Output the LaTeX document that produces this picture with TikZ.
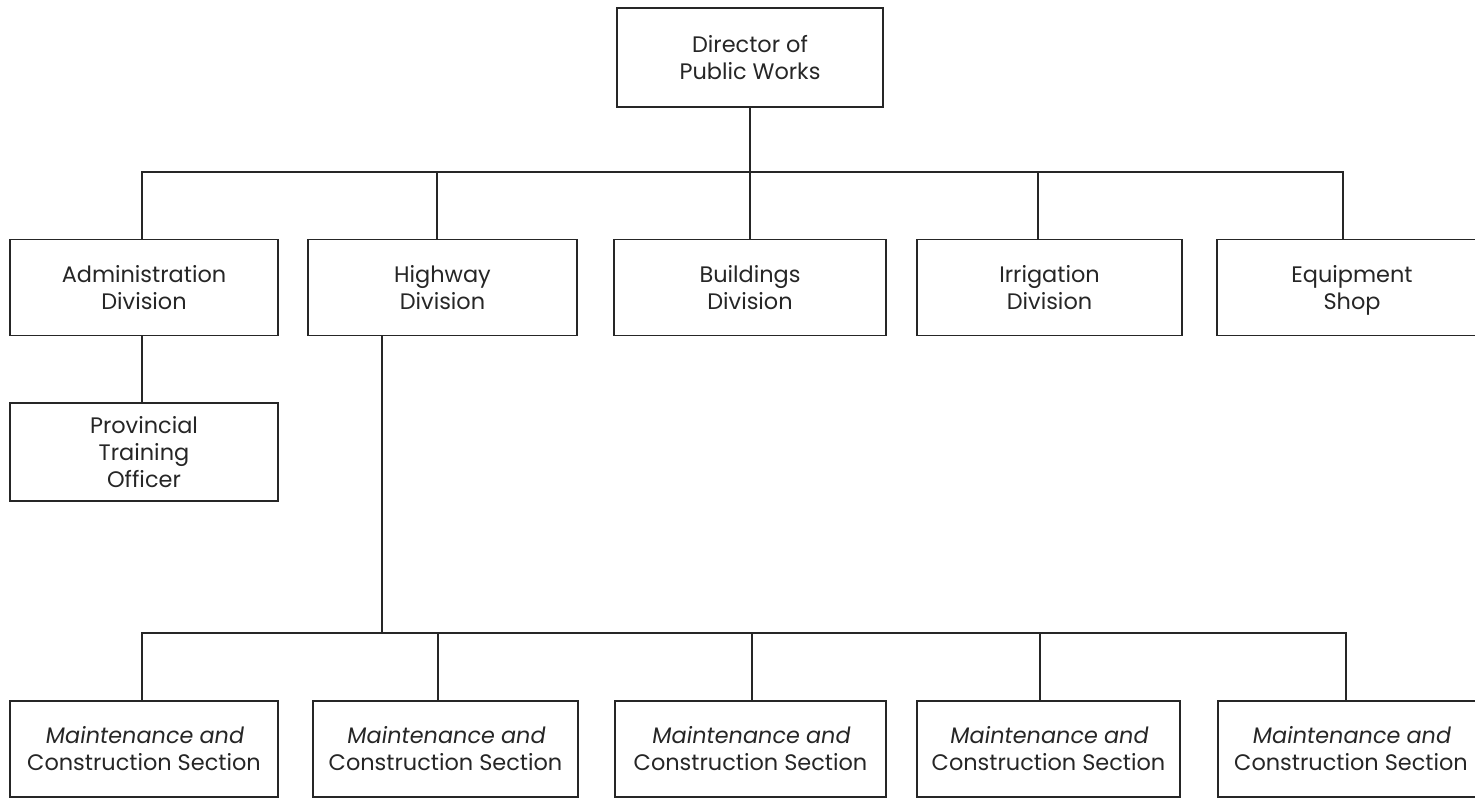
\documentclass[tikz,border=0pt]{standalone}
\usepackage{fontspec}
\setmainfont{Poppins}
\newfontfamily\slantfont[FakeSlant=0.15]{Poppins}
\begin{document}
\begin{tikzpicture}[x=1bp,y=-1bp,
  ink/.style={draw=black!85, line width=1.6bp},
  unit/.style={ink, rectangle, align=center, text=black!85,
    font=\fontsize{22.5}{27}\selectfont, inner sep=0pt},
  link/.style={ink, line cap=rect}]
\clip (0,0) rectangle (1475,798);
\fill[white] (0,0) rectangle (1475,798);

% head of the department
\node[unit, minimum width=266bp, minimum height=99bp] (director) at (750,57.5)
  {Director of\\Public Works};

% divisions
\begin{scope}[every node/.style={unit, minimum height=96bp}]
\node[minimum width=268bp] (admin) at (144,287.5) {Administration\\Division};
\node[minimum width=269bp] (highway) at (442.5,287.5) {Highway\\Division};
\node[minimum width=272bp] (buildings) at (750,287.5) {Buildings\\Division};
\node[minimum width=265bp] (irrigation) at (1049.5,287.5) {Irrigation\\Division};
\node[minimum width=270bp] (equipment) at (1352,287.5) {Equipment\\\smash{Shop}};
\end{scope}

\node[unit, minimum width=268bp, minimum height=98bp] (training) at (144,452)
  {Provincial\\Training\\Officer};

% maintenance and construction sections
\begin{scope}[every node/.style={unit, minimum height=96bp}]
\node[minimum width=268bp] (sec1) at (144,749) {{\slantfont Maintenance and}\\Construction Section};
\node[minimum width=265bp] (sec2) at (445.5,749) {{\slantfont Maintenance and}\\Construction Section};
\node[minimum width=271bp] (sec3) at (750.5,749) {{\slantfont Maintenance and}\\Construction Section};
\node[minimum width=263bp] (sec4) at (1048.5,749) {{\slantfont Maintenance and}\\Construction Section};
\node[minimum width=266bp] (sec5) at (1351,749) {{\slantfont Maintenance and}\\Construction Section};
\end{scope}

% upper bus
\coordinate (tA) at (142,172);
\coordinate (tB) at (437,172);
\coordinate (tC) at (750,172);
\coordinate (tD) at (1038,172);
\coordinate (tE) at (1343,172);
\draw[link] (tA) -- (tE);
\draw[link] (director) -- (buildings);
\draw[link] (tA) -- (tA |- admin.north);
\draw[link] (tB) -- (tB |- highway.north);
\draw[link] (tD) -- (tD |- irrigation.north);
\draw[link] (tE) -- (tE |- equipment.north);

% administration to training officer
\draw[link] (tA |- admin.south) -- (tA |- training.north);

% lower bus
\coordinate (hw) at (382,633);
\coordinate (bA) at (142,633);
\coordinate (bB) at (438,633);
\coordinate (bC) at (752,633);
\coordinate (bD) at (1040,633);
\coordinate (bE) at (1346,633);
\draw[link] (hw |- highway.south) -- (hw);
\draw[link] (bA) -- (bE);
\draw[link] (bA) -- (bA |- sec1.north);
\draw[link] (bB) -- (bB |- sec2.north);
\draw[link] (bC) -- (bC |- sec3.north);
\draw[link] (bD) -- (bD |- sec4.north);
\draw[link] (bE) -- (bE |- sec5.north);
\end{tikzpicture}
\end{document}
